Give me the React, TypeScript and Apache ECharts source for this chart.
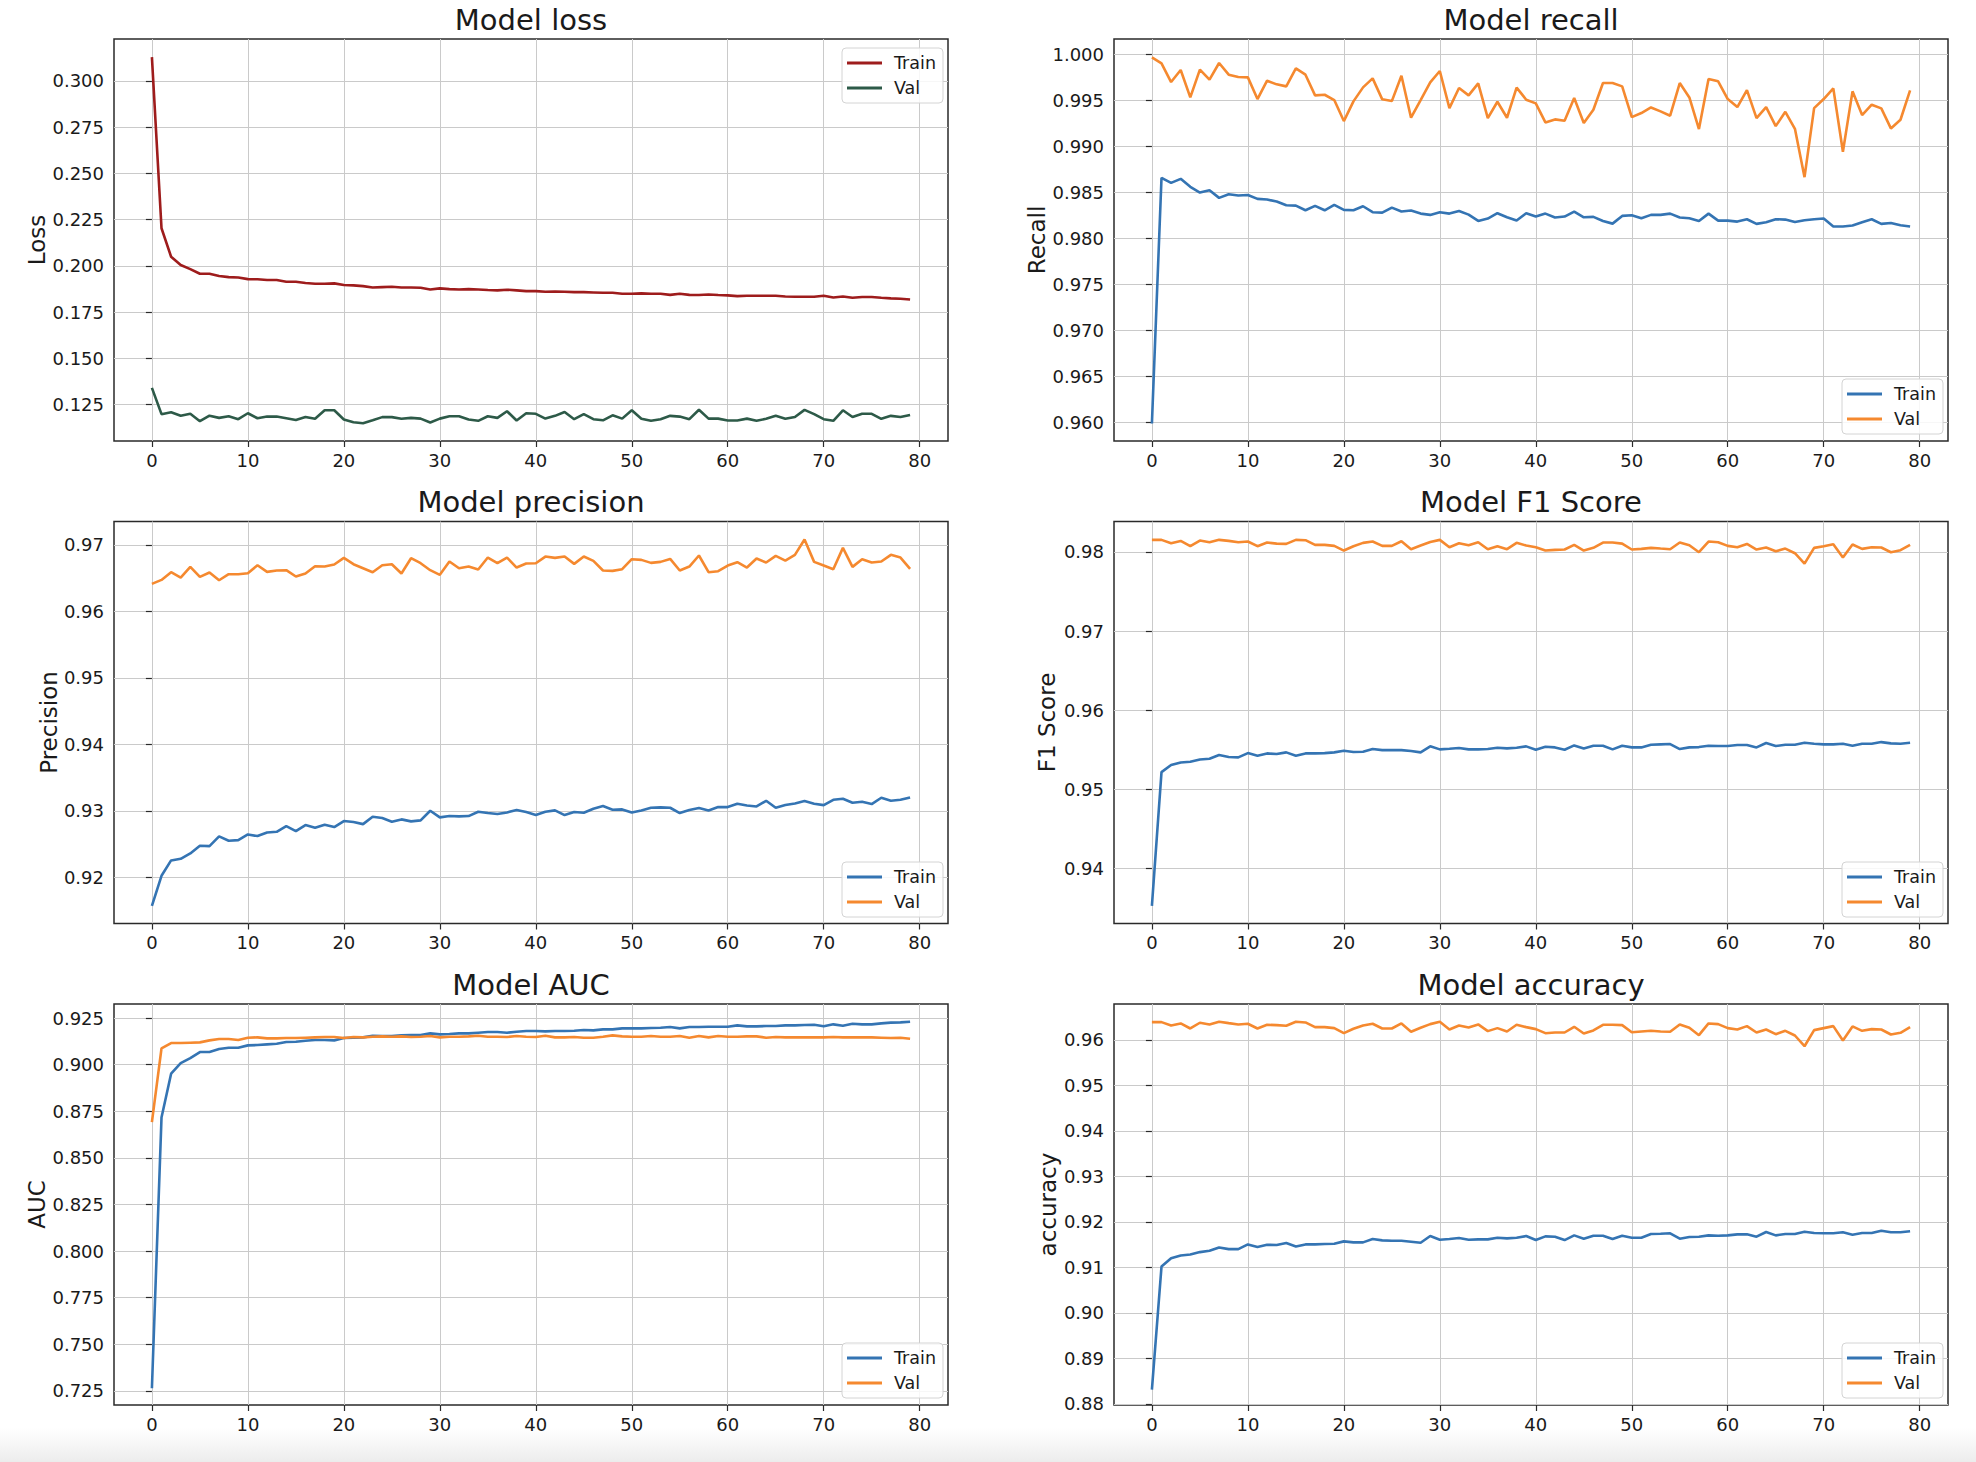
import React, { useEffect, useRef } from "react";
import * as echarts from "echarts";

// ---------- data ----------
const epochs: number[] = Array.from({ length: 80 }, (_, i) => i);
const xTicks = [0, 10, 20, 30, 40, 50, 60, 70, 80];

const lossTrain = [
  0.3128, 0.2203, 0.2049, 0.2004, 0.1982, 0.1957, 0.1957, 0.1945, 0.1939, 0.1937,
  0.1928, 0.1927, 0.1923, 0.1923, 0.1914, 0.1914, 0.1907, 0.1903, 0.1903, 0.1905,
  0.1896, 0.1894, 0.189, 0.1883, 0.1885, 0.1887, 0.1883, 0.1883, 0.1881, 0.1872,
  0.1878, 0.1874, 0.1872, 0.1874, 0.1872, 0.1869, 0.1867, 0.1871, 0.1867, 0.1863,
  0.1863, 0.186, 0.1861, 0.186, 0.1858, 0.1858, 0.1856, 0.1854, 0.1854, 0.1849,
  0.1849, 0.1851, 0.1849, 0.1849, 0.1843, 0.1849, 0.1843, 0.1842, 0.1845, 0.1842,
  0.184, 0.1836, 0.1838, 0.1838, 0.1838, 0.1838, 0.1834, 0.1833, 0.1833, 0.1833,
  0.1838, 0.1829, 0.1834, 0.1827, 0.1831, 0.1831, 0.1827, 0.1824, 0.1822, 0.1818,
];
const lossVal = [
  0.134, 0.1198, 0.1208, 0.1189, 0.12, 0.116, 0.119, 0.1178, 0.1187, 0.1171,
  0.1203, 0.1176, 0.1185, 0.1185, 0.1176, 0.1167, 0.1183, 0.1173, 0.1219, 0.1219,
  0.1169, 0.1154, 0.1149, 0.1165, 0.1182, 0.1182, 0.1173, 0.1178, 0.1174, 0.1153,
  0.1174, 0.1187, 0.1187, 0.1169, 0.1162, 0.1187, 0.1178, 0.1214, 0.1164, 0.1203,
  0.12, 0.1174, 0.1189, 0.121, 0.1171, 0.1198, 0.1171, 0.1165, 0.1192, 0.1174,
  0.1219, 0.1173, 0.1162, 0.1171, 0.1189, 0.1185, 0.1171, 0.1222, 0.1174, 0.1174,
  0.1164, 0.1164, 0.1174, 0.1162, 0.1173, 0.1189, 0.1173, 0.1183, 0.1221, 0.1198,
  0.1171, 0.1162, 0.1219, 0.1183, 0.12, 0.12, 0.1173, 0.1189, 0.1183, 0.1194,
];
const recallTrain = [
  0.9599, 0.98661, 0.98606, 0.9865, 0.98563, 0.98501, 0.98526, 0.98443, 0.98483, 0.98468,
  0.98475, 0.98432, 0.98425, 0.98403, 0.98363, 0.98359, 0.98308, 0.98356, 0.98308, 0.98367,
  0.98312, 0.98308, 0.98352, 0.98287, 0.98283, 0.98337, 0.98294, 0.98305, 0.98272, 0.98258,
  0.98287, 0.98272, 0.98301, 0.98261, 0.98192, 0.98218, 0.98276, 0.98232, 0.98196, 0.98276,
  0.9824, 0.98272, 0.98229, 0.9824, 0.98294, 0.98232, 0.98236, 0.98192, 0.98163, 0.98247,
  0.98254, 0.98221, 0.98258, 0.98258, 0.98272, 0.98229, 0.98221, 0.98192, 0.98272, 0.98196,
  0.98196, 0.98185, 0.98211, 0.9816, 0.98178, 0.98211, 0.98207, 0.98181, 0.982, 0.98211,
  0.98218, 0.98131, 0.98131, 0.98142, 0.98178, 0.98211, 0.9816, 0.9817, 0.98145, 0.98131,
];
const recallVal = [
  0.99971, 0.99906, 0.99702, 0.99833, 0.99535, 0.99837, 0.99728, 0.99909, 0.99782, 0.99757,
  0.99753, 0.99517, 0.99717, 0.99677, 0.99655, 0.99851, 0.99782, 0.99557, 0.99564, 0.99506,
  0.99278, 0.99492, 0.99644, 0.99742, 0.99514, 0.99495, 0.99771, 0.99314, 0.99506, 0.99699,
  0.99822, 0.99419, 0.99637, 0.99557, 0.99688, 0.9931, 0.99488, 0.99314, 0.99641, 0.9951,
  0.9947, 0.99263, 0.99296, 0.99281, 0.99528, 0.99256, 0.99401, 0.99691, 0.99691, 0.99655,
  0.99321, 0.99365, 0.99426, 0.99383, 0.99336, 0.99691, 0.99535, 0.99191, 0.99735, 0.9971,
  0.99517, 0.9943, 0.99615, 0.9931, 0.9943, 0.99223, 0.99379, 0.99194, 0.98668, 0.99419,
  0.99517, 0.99633, 0.98944, 0.99601, 0.99343, 0.99456, 0.99416, 0.99198, 0.99292, 0.99612,
];
const precisionTrain = [
  0.91574, 0.92025, 0.92256, 0.92281, 0.92361, 0.92477, 0.92471, 0.92617, 0.92552, 0.92562,
  0.92647, 0.92622, 0.92677, 0.92687, 0.92772, 0.92697, 0.92787, 0.92747, 0.92792, 0.92757,
  0.92848, 0.92833, 0.92802, 0.92913, 0.92893, 0.92838, 0.92873, 0.92843, 0.92858, 0.93003,
  0.92903, 0.92923, 0.92918, 0.92923, 0.92988, 0.92968, 0.92953, 0.92978, 0.93013, 0.92983,
  0.92938, 0.92988, 0.93008, 0.92938, 0.92983, 0.92973, 0.93033, 0.93073, 0.93018, 0.93023,
  0.92978, 0.93008, 0.93048, 0.93053, 0.93048, 0.92968, 0.93013, 0.93043, 0.93008, 0.93058,
  0.93058, 0.93108, 0.93083, 0.93068, 0.93153, 0.93048, 0.93088, 0.93113, 0.93148, 0.93108,
  0.93088, 0.93168, 0.93183, 0.93123, 0.93138, 0.93103, 0.93198, 0.93153, 0.93168, 0.93203,
];
const precisionVal = [
  0.96413, 0.96473, 0.96589, 0.96509, 0.96669, 0.96519, 0.96584, 0.96468, 0.96559, 0.96559,
  0.96574, 0.96694, 0.96594, 0.96614, 0.96619, 0.96524, 0.96569, 0.96679, 0.96674, 0.96704,
  0.96804, 0.96709, 0.96649, 0.96589, 0.96694, 0.96709, 0.96569, 0.96799, 0.96724, 0.96619,
  0.96549, 0.96749, 0.96649, 0.96674, 0.96629, 0.96809, 0.96724, 0.96809, 0.96659, 0.96719,
  0.96724, 0.96824, 0.96804, 0.96824, 0.96714, 0.96824, 0.96759, 0.96614, 0.96609, 0.96634,
  0.96784, 0.96774, 0.96729, 0.96744, 0.96789, 0.96614, 0.96674, 0.9684, 0.96589, 0.96604,
  0.96689, 0.96739, 0.96659, 0.96794, 0.96734, 0.96835, 0.96764, 0.9685, 0.9708, 0.96744,
  0.96689, 0.96634, 0.96955, 0.96669, 0.96784, 0.96734, 0.96749, 0.9685, 0.96809, 0.96639,
];
const f1Train = [
  0.93528, 0.95218, 0.95307, 0.9534, 0.95349, 0.95378, 0.95387, 0.95433, 0.95408, 0.95404,
  0.95458, 0.95425, 0.95454, 0.95446, 0.95467, 0.95425, 0.95454, 0.95454, 0.95458, 0.95467,
  0.95488, 0.95471, 0.95475, 0.95509, 0.95496, 0.95496, 0.95496, 0.95484, 0.95467, 0.95543,
  0.95505, 0.95513, 0.95522, 0.95505, 0.95505, 0.95509, 0.95526, 0.95517, 0.95526, 0.95543,
  0.95501, 0.95539, 0.9553, 0.95501, 0.95555, 0.95517, 0.95551, 0.95551, 0.95505, 0.95551,
  0.9553, 0.9553, 0.95564, 0.95568, 0.95572, 0.95509, 0.9553, 0.95534, 0.95551, 0.95547,
  0.95547, 0.9556, 0.9556, 0.9553, 0.95585, 0.95547, 0.95564, 0.95564, 0.95589, 0.95576,
  0.95568, 0.95568, 0.95576, 0.95551, 0.95576, 0.95576, 0.95597, 0.95581, 0.95576, 0.95589,
];
const f1Val = [
  0.98152, 0.98152, 0.9811, 0.98139, 0.98072, 0.98143, 0.98122, 0.98152, 0.98139, 0.98122,
  0.98131, 0.98072, 0.98118, 0.98105, 0.98101, 0.98152, 0.98148, 0.98089, 0.98089, 0.98076,
  0.98017, 0.98072, 0.98114, 0.98131, 0.98076, 0.98076, 0.98135, 0.98034, 0.9808, 0.98126,
  0.98152, 0.98059, 0.9811, 0.98084, 0.98122, 0.98034, 0.98072, 0.98034, 0.98114, 0.9808,
  0.98059, 0.98017, 0.98025, 0.9803, 0.98089, 0.98017, 0.98051, 0.98118, 0.98118, 0.98105,
  0.9803, 0.98038, 0.98051, 0.98042, 0.98034, 0.98118, 0.98084, 0.97996, 0.98131, 0.98122,
  0.98076, 0.98059, 0.98101, 0.9803, 0.98055, 0.98008, 0.98042, 0.97983, 0.97852, 0.98051,
  0.98072, 0.98097, 0.97928, 0.98093, 0.98038, 0.98059, 0.98055, 0.97996, 0.98021, 0.98089,
];
const aucTrain = [
  0.72643, 0.87169, 0.89513, 0.90085, 0.90353, 0.90675, 0.90675, 0.90836, 0.90908, 0.90908,
  0.91033, 0.91051, 0.91087, 0.91122, 0.91212, 0.9123, 0.91283, 0.91319, 0.91319, 0.91301,
  0.91427, 0.91445, 0.91462, 0.91552, 0.91534, 0.91534, 0.9157, 0.91588, 0.91588, 0.91677,
  0.91623, 0.91641, 0.91677, 0.91677, 0.91713, 0.91749, 0.91749, 0.91713, 0.91767, 0.91802,
  0.91802, 0.91784, 0.91802, 0.91802, 0.9182, 0.91856, 0.91838, 0.91892, 0.91892, 0.91945,
  0.91945, 0.91945, 0.91963, 0.91981, 0.92017, 0.91945, 0.92017, 0.92017, 0.92035, 0.92035,
  0.92035, 0.92106, 0.92053, 0.92053, 0.92071, 0.92071, 0.92106, 0.92106, 0.92124, 0.92142,
  0.92053, 0.9216, 0.92089, 0.92196, 0.9216, 0.9216, 0.92214, 0.9225, 0.92267, 0.92303,
];
const aucVal = [
  0.86919, 0.90872, 0.91158, 0.91158, 0.91176, 0.91194, 0.91301, 0.91373, 0.91373, 0.91319,
  0.91445, 0.91462, 0.91409, 0.91409, 0.91427, 0.91427, 0.91445, 0.91462, 0.9148, 0.9148,
  0.91427, 0.9148, 0.91462, 0.91498, 0.91516, 0.91498, 0.91516, 0.9148, 0.91498, 0.91534,
  0.91462, 0.91498, 0.91498, 0.91516, 0.91552, 0.91498, 0.91498, 0.9148, 0.91534, 0.91498,
  0.9148, 0.91552, 0.91462, 0.91462, 0.9148, 0.91445, 0.91445, 0.91498, 0.9157, 0.91516,
  0.91498, 0.91498, 0.91534, 0.91498, 0.91498, 0.91534, 0.91445, 0.91534, 0.91462, 0.91534,
  0.91498, 0.91498, 0.91516, 0.91516, 0.91445, 0.9148, 0.91462, 0.91462, 0.91462, 0.91462,
  0.91462, 0.9148, 0.91462, 0.91462, 0.91462, 0.91462, 0.91445, 0.91427, 0.91445, 0.91391,
];
const accuracyTrain = [
  0.88317, 0.9102, 0.91204, 0.91263, 0.91285, 0.91337, 0.91367, 0.9144, 0.91403, 0.91403,
  0.91506, 0.91448, 0.91499, 0.91492, 0.91536, 0.91462, 0.91506, 0.91506, 0.91514, 0.91521,
  0.91573, 0.91551, 0.91551, 0.91624, 0.91595, 0.91587, 0.91587, 0.91565, 0.91543, 0.9169,
  0.9161, 0.91624, 0.91646, 0.9161, 0.91617, 0.91617, 0.91654, 0.91639, 0.91654, 0.9169,
  0.91602, 0.91683, 0.91676, 0.91602, 0.91705, 0.91632, 0.91698, 0.91698, 0.91624, 0.91698,
  0.91654, 0.91654, 0.91735, 0.91742, 0.9175, 0.91632, 0.91668, 0.91676, 0.91705, 0.91698,
  0.91705, 0.91727, 0.91727, 0.91676, 0.91779, 0.91705, 0.91735, 0.91735, 0.91786, 0.91757,
  0.9175, 0.9175, 0.91772, 0.9172, 0.91757, 0.91757, 0.91808, 0.91772, 0.91772, 0.91794,
];
const accuracyVal = [
  0.9639, 0.9639, 0.96317, 0.96361, 0.9625, 0.96376, 0.96339, 0.96398, 0.96368, 0.96339,
  0.96354, 0.9625, 0.96331, 0.96324, 0.96309, 0.96398, 0.96383, 0.9628, 0.9628, 0.96258,
  0.96147, 0.96243, 0.96317, 0.96354, 0.9625, 0.9625, 0.96361, 0.96177, 0.96265, 0.96346,
  0.96398, 0.96228, 0.96317, 0.96273, 0.96339, 0.96192, 0.96258, 0.96184, 0.96331, 0.9628,
  0.96236, 0.96147, 0.96162, 0.96162, 0.96287, 0.9614, 0.96206, 0.96331, 0.96331, 0.96324,
  0.96169, 0.96184, 0.96199, 0.96184, 0.96177, 0.96339, 0.96265, 0.96103, 0.96361, 0.96346,
  0.96258, 0.96228, 0.96302, 0.96162, 0.96228, 0.96125, 0.96199, 0.96096, 0.9586, 0.96214,
  0.96258, 0.96302, 0.95985, 0.96295, 0.96199, 0.96236, 0.96228, 0.96118, 0.96155, 0.9628,
];

const lossTicks = [0.125, 0.15, 0.175, 0.2, 0.225, 0.25, 0.275, 0.3];
const recallTicks = [0.96, 0.965, 0.97, 0.975, 0.98, 0.985, 0.99, 0.995, 1.0];
const precisionTicks = [0.92, 0.93, 0.94, 0.95, 0.96, 0.97];
const f1Ticks = [0.94, 0.95, 0.96, 0.97, 0.98];
const aucTicks = [0.725, 0.75, 0.775, 0.8, 0.825, 0.85, 0.875, 0.9, 0.925];
const accuracyTicks = [0.88, 0.89, 0.9, 0.91, 0.92, 0.93, 0.94, 0.95, 0.96];

const lossRange = [0.1053, 0.3226];
const recallRange = [0.958, 1.0017];
const precisionRange = [0.91308, 0.97351];
const f1Range = [0.93305, 0.98384];
const aucRange = [0.71749, 0.93251];
const accuracyRange = [0.87978, 0.96788];
const xRange = [-3.95, 82.95];

// ---------- styles ----------
const FONT = "DejaVu Sans";
const TEXT = "#1a1a1a";
const RED = "#9e1c1c";
const GREEN = "#2d5a48";
const BLUE = "#3474b3";
const ORANGE = "#f5892f";

const PW = 834;

const panels = [
  { id: "loss", title: "Model loss", yName: "Loss", train: lossTrain, val: lossVal, c1: RED, c2: GREEN,
    range: lossRange, ticks: lossTicks, dec: 3, left: 114, top: 39, height: 402, nameGap: 62, lgLeft: 842, lgTop: 48 },
  { id: "recall", title: "Model recall", yName: "Recall", train: recallTrain, val: recallVal, c1: BLUE, c2: ORANGE,
    range: recallRange, ticks: recallTicks, dec: 3, left: 1114, top: 39, height: 402, nameGap: 63, lgLeft: 1842, lgTop: 379 },
  { id: "precision", title: "Model precision", yName: "Precision", train: precisionTrain, val: precisionVal, c1: BLUE, c2: ORANGE,
    range: precisionRange, ticks: precisionTicks, dec: 2, left: 114, top: 521.5, height: 402, nameGap: 54, lgLeft: 842, lgTop: 862 },
  { id: "f1", title: "Model F1 Score", yName: "F1 Score", train: f1Train, val: f1Val, c1: BLUE, c2: ORANGE,
    range: f1Range, ticks: f1Ticks, dec: 2, left: 1114, top: 521.5, height: 402, nameGap: 56, lgLeft: 1842, lgTop: 862 },
  { id: "auc", title: "Model AUC", yName: "AUC", train: aucTrain, val: aucVal, c1: BLUE, c2: ORANGE,
    range: aucRange, ticks: aucTicks, dec: 3, left: 114, top: 1004, height: 401, nameGap: 65, lgLeft: 842, lgTop: 1343 },
  { id: "acc", title: "Model accuracy", yName: "accuracy", train: accuracyTrain, val: accuracyVal, c1: BLUE, c2: ORANGE,
    range: accuracyRange, ticks: accuracyTicks, dec: 2, left: 1114, top: 1004, height: 401, nameGap: 55, lgLeft: 1842, lgTop: 1343 },
];

function buildOption() {
  const grid = panels.map((p) => ({
    left: p.left, top: p.top, width: PW, height: p.height,
    show: true, borderColor: "#2a2a2a", borderWidth: 1.5, backgroundColor: "transparent",
  }));
  const xAxis = panels.map((p, i) => ({
    type: "value", gridIndex: i, min: xRange[0], max: xRange[1], splitNumber: 9,
    axisLine: { show: false },
    axisTick: { show: true, inside: false, length: 6, customValues: xTicks, lineStyle: { color: "#2a2a2a", width: 1.2 } },
    axisLabel: { show: true, customValues: xTicks, margin: 10, fontSize: 18, fontFamily: FONT, color: TEXT,
      formatter: (v: number) => String(Math.round(v)) },
    splitLine: { show: true, lineStyle: { color: "#cacaca", width: 1 } },
  }));
  const yAxis = panels.map((p, i) => ({
    type: "value", gridIndex: i, min: p.range[0], max: p.range[1],
    axisLine: { show: false },
    axisTick: { show: true, inside: false, length: 6, customValues: p.ticks, lineStyle: { color: "#2a2a2a", width: 1.2 } },
    axisLabel: { show: true, customValues: p.ticks, margin: 10, fontSize: 18, fontFamily: FONT, color: TEXT,
      formatter: (v: number) => v.toFixed(p.dec) },
    splitLine: { show: true, lineStyle: { color: "#cacaca", width: 1 } },
    name: p.yName, nameLocation: "middle", nameGap: p.nameGap,
    nameTextStyle: { fontSize: 23, fontFamily: FONT, color: TEXT },
  }));
  const series: any[] = [];
  panels.forEach((p, i) => {
    series.push({
      type: "line", name: `${p.id}|Train`, xAxisIndex: i, yAxisIndex: i,
      data: epochs.map((e, k) => [e, p.train[k]]),
      symbol: "none", color: p.c1, itemStyle: { color: p.c1 },
      lineStyle: { color: p.c1, width: 2.6 }, z: 3,
    });
    series.push({
      type: "line", name: `${p.id}|Val`, xAxisIndex: i, yAxisIndex: i,
      data: epochs.map((e, k) => [e, p.val[k]]),
      symbol: "none", color: p.c2, itemStyle: { color: p.c2 },
      lineStyle: { color: p.c2, width: 2.6 }, z: 4,
    });
  });
  const legend = panels.map((p) => ({
    data: [`${p.id}|Train`, `${p.id}|Val`],
    formatter: (n: string) => n.split("|")[1],
    orient: "vertical", left: p.lgLeft, top: p.lgTop,
    icon: "rect", itemWidth: 35, itemHeight: 3, itemGap: 7,
    padding: [6, 7, 6, 5],
    backgroundColor: "rgba(255,255,255,0.85)", borderColor: "#d4d4d4", borderWidth: 1, borderRadius: 4,
    selectedMode: false,
    textStyle: { fontSize: 17.5, fontFamily: FONT, color: TEXT, lineHeight: 18, padding: [0, 0, 0, 7] },
  }));
  const title = panels.map((p) => ({
    text: p.title, left: p.left + PW / 2, top: p.top - 34, textAlign: "center", padding: 0,
    textStyle: { fontSize: 29, fontWeight: "normal", fontFamily: FONT, color: TEXT },
  }));
  const graphic = [
    {
      type: "rect", silent: true, z: -10,
      shape: { x: 0, y: 1428, width: 1976, height: 34 },
      style: {
        fill: new echarts.graphic.LinearGradient(0, 0, 0, 1, [
          { offset: 0, color: "rgba(238,238,238,0)" },
          { offset: 1, color: "#ececec" },
        ]),
      },
    },
  ];
  return { animation: false, backgroundColor: "#ffffff", grid, xAxis, yAxis, series, legend, title, graphic };
}

export default function App() {
  const ref = useRef<HTMLDivElement>(null);
  useEffect(() => {
    if (!ref.current) return;
    const chart = echarts.init(ref.current, null, { renderer: "svg" });
    chart.setOption(buildOption() as any);
    return () => chart.dispose();
  }, []);
  return (
    <div
      ref={ref}
      style={{ position: "absolute", left: 0, top: 0, width: 1976, height: 1462, background: "#fff" }}
    />
  );
}
